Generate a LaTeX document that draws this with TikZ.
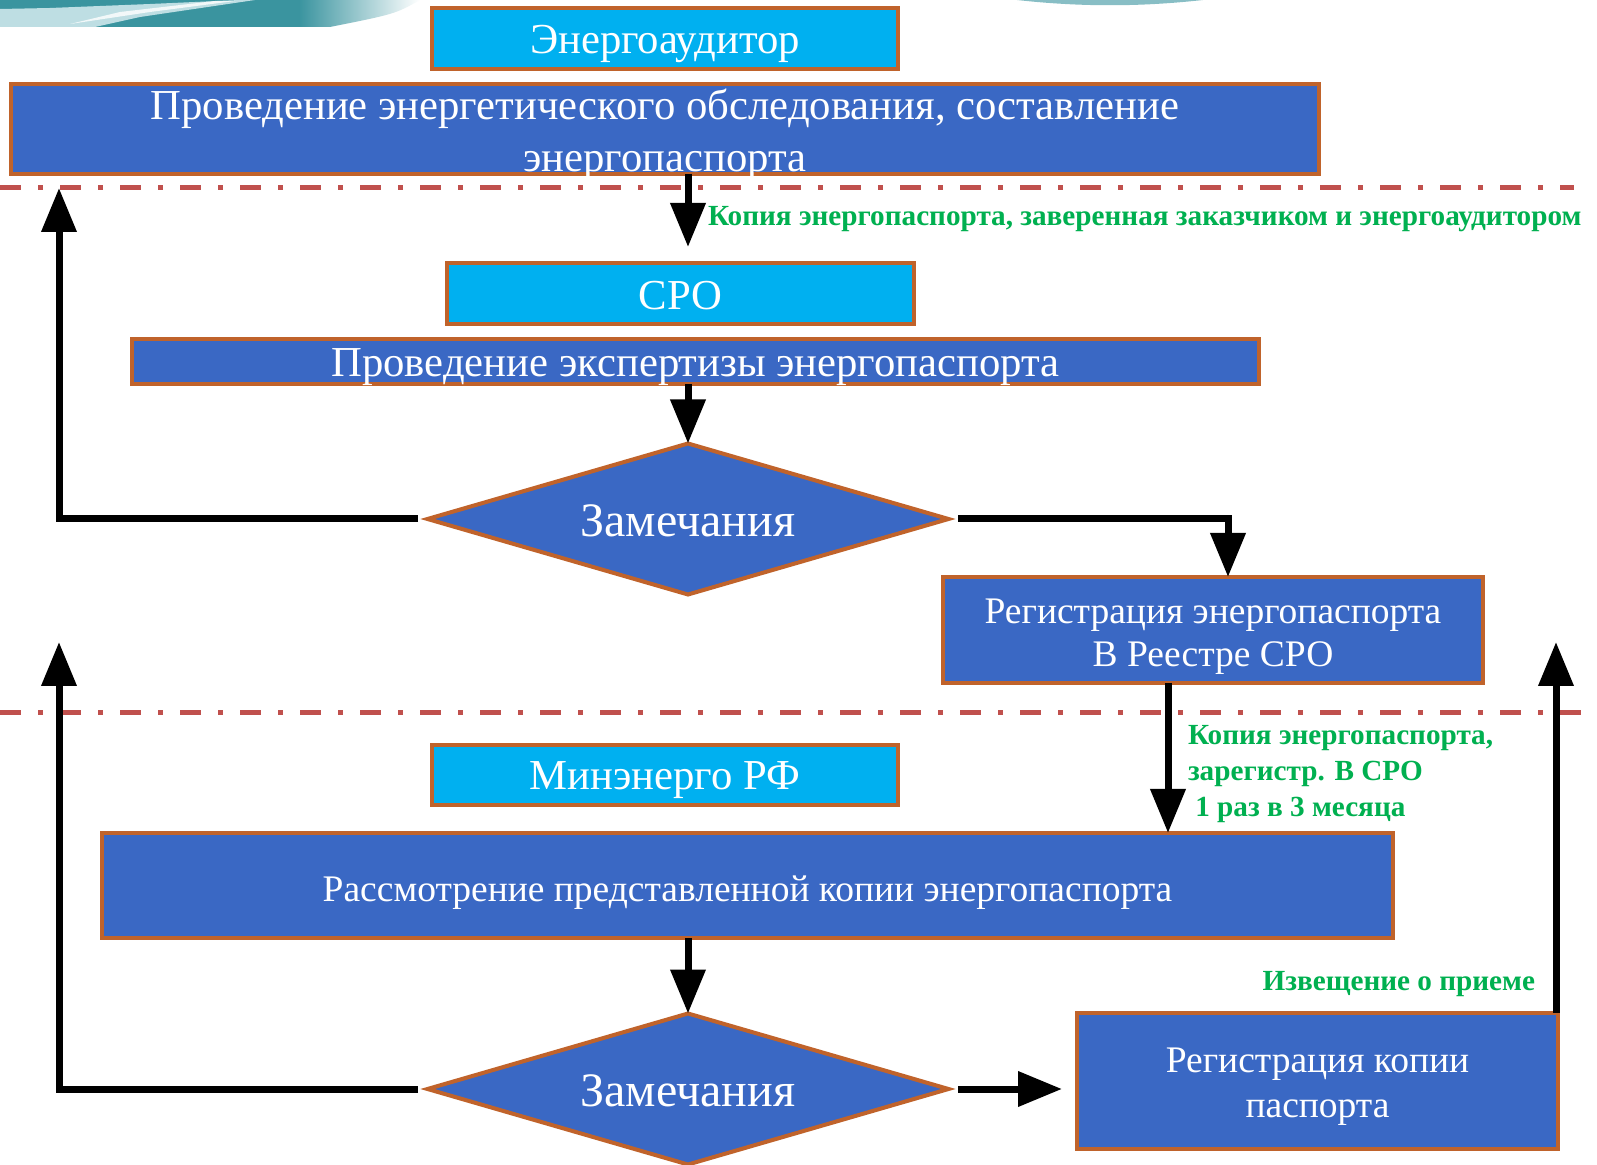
\documentclass[tikz,border=0pt]{standalone}
\usepackage{fontspec}
\setmainfont{Liberation Serif}
\usetikzlibrary{shapes.geometric,arrows.meta,calc}
\definecolor{boxblue}{HTML}{3A68C4}
\definecolor{boxcyan}{HTML}{00B0F0}
\definecolor{edgebrown}{HTML}{C0632B}
\definecolor{lblgreen}{HTML}{00B050}
\definecolor{sepred}{HTML}{C0504D}
\definecolor{decoteal}{HTML}{3A949F}
\definecolor{decolight}{HTML}{D6ECEF}
\begin{document}
\begin{tikzpicture}[x=0.5pt,y=-0.5pt,
  every node/.style={inner sep=0pt, outer sep=0pt},
  titlebox/.style={draw=edgebrown, line width=2pt, fill=boxcyan},
  bluebox/.style={draw=edgebrown, line width=2pt, fill=boxblue},
  boxtext/.style={text=white, align=center},
  bigfont/.style={font=\fontsize{21.35}{26}\selectfont},
  midfont/.style={font=\fontsize{18.75}{22}\selectfont},
  decision/.style={diamond, draw=edgebrown, line width=2pt, fill=boxblue,
    minimum width=260.5pt, minimum height=75.5pt, shape aspect=3.4},
  flow/.style={line width=3.5pt, -{Triangle[length=22pt,width=17pt]}},
  sepline/.style={draw=sepred, line width=2.5pt,
    dash pattern=on 10.5pt off 8.5pt on 2.5pt off 8.5pt},
  note/.style={text=lblgreen, font=\bfseries\fontsize{14.6}{18}\selectfont, align=left}
]
\useasboundingbox (0,0) rectangle (1597,1165);
\fill[white] (0,0) rectangle (1597,1165);

% top decoration
\fill[decoteal] (0,0) -- (300,0) -- (300,27) -- (0,27) -- cycle;
\shade[left color=decoteal, right color=white] (299,0) -- (420,0) .. controls (395,14) .. (330,27) -- (299,27) -- cycle;
\fill[decolight, opacity=0.85] (0,9) -- (50,8) -- (150,4) -- (240,0) -- (255,0) -- (140,17) -- (95,27) -- (0,27) -- cycle;
\fill[white, opacity=0.8] (70,24) -- (150,12) -- (235,1) -- (215,1) -- (120,12) -- cycle;
\fill[decoteal, opacity=0.6] (1017,0) .. controls (1080,7) and (1140,7) .. (1203,0) -- cycle;

% separators
\draw[sepline] (0,188) -- (1574,188);
\draw[sepline] (0,713) -- (1597,713);

% boxes
\node[titlebox, minimum width=233pt, minimum height=30.5pt] (aud) at (665,39) {};
\node[boxtext, bigfont] (audt) at (665,44) {Энергоаудитор};
\node[bluebox, minimum width=654pt, minimum height=45pt] (big) at (665,129) {};
\node[boxtext, font=\fontsize{21.35}{26}\selectfont] (bigt) at (665,135)
  {Проведение энергетического обследования, составление\\энергопаспорта};
\node[titlebox, minimum width=233.5pt, minimum height=30.5pt] (sro) at (680.5,293.5) {};
\node[boxtext, bigfont] (srot) at (680.5,295.5) {СРО};
\node[bluebox, minimum width=563.5pt, minimum height=22.5pt] (exp) at (695.5,361.5) {};
\node[boxtext, bigfont] (expt) at (695.5,367.5) {Проведение экспертизы энергопаспорта};
\node[decision] (d1) at (688,519) {};
\node[boxtext, font=\fontsize{24}{28}\selectfont] (d1t) at (688,521) {Замечания};
\node[bluebox, minimum width=270pt, minimum height=53pt] (reg1) at (1213,630) {};
\node[boxtext, font=\fontsize{18.75}{21.5}\selectfont] (reg1t) at (1213,637)
  {Регистрация энергопаспорта\\В Реестре СРО};
\node[titlebox, minimum width=233pt, minimum height=30pt] (min) at (665,775) {};
\node[boxtext, bigfont] (mint) at (665,780) {Минэнерго РФ};
\node[bluebox, minimum width=645.5pt, minimum height=52.5pt] (rass) at (747.5,885.5) {};
\node[boxtext, midfont] (rasst) at (747.5,892.5)
  {Рассмотрение представленной копии энергопаспорта};
\node[decision] (d2) at (688,1089) {};
\node[boxtext, font=\fontsize{24}{28}\selectfont] (d2t) at (688,1091) {Замечания};
\node[bluebox, minimum width=240.5pt, minimum height=68pt] (reg2) at (1317.5,1081) {};
\node[boxtext, font=\fontsize{18.75}{22.5}\selectfont] (reg2t) at (1317.5,1087)
  {Регистрация копии\\паспорта};

% labels
\node[note, anchor=west] (n1) at (708,219) {Копия энергопаспорта, заверенная заказчиком и энергоаудитором};
\node[note, anchor=north west] (n2) at (1188,725)
  {Копия энергопаспорта,\\зарегистр. В СРО\\\ 1 раз в 3 месяца};
\node[note, anchor=east] (n3) at (1535,984) {Извещение о приеме};

% connector coordinates
\coordinate (a1s) at (688,174);
\coordinate (a1e) at (688,247);
\coordinate (l1) at (418,519);
\coordinate (up1) at (59,188);
\coordinate (r1) at (958,519);
\coordinate (r1e) at (1228,577);
\coordinate (c3) at (1168,683);
\coordinate (l2) at (418,1089);
\coordinate (up2) at (59,642);
\coordinate (r2) at (958,1089);
\coordinate (r2e) at (1062,1089);
\coordinate (c5) at (1556,1013);
\coordinate (c5e) at (1556,642);

% connectors
\draw[flow] (a1s) -- (a1e);
\draw[flow] (exp.south -| d1.north) -- (d1.north);
\draw[flow] (l1) -| (up1);
\draw[flow] (r1) -| (r1e);
\draw[flow] (c3) -- (c3 |- rass.north);
\draw[flow] (rass.south -| d2.north) -- (d2.north);
\draw[flow] (l2) -| (up2);
\draw[flow] (r2) -- (r2e);
\draw[flow] (c5) -- (c5e);
\end{tikzpicture}
\end{document}
